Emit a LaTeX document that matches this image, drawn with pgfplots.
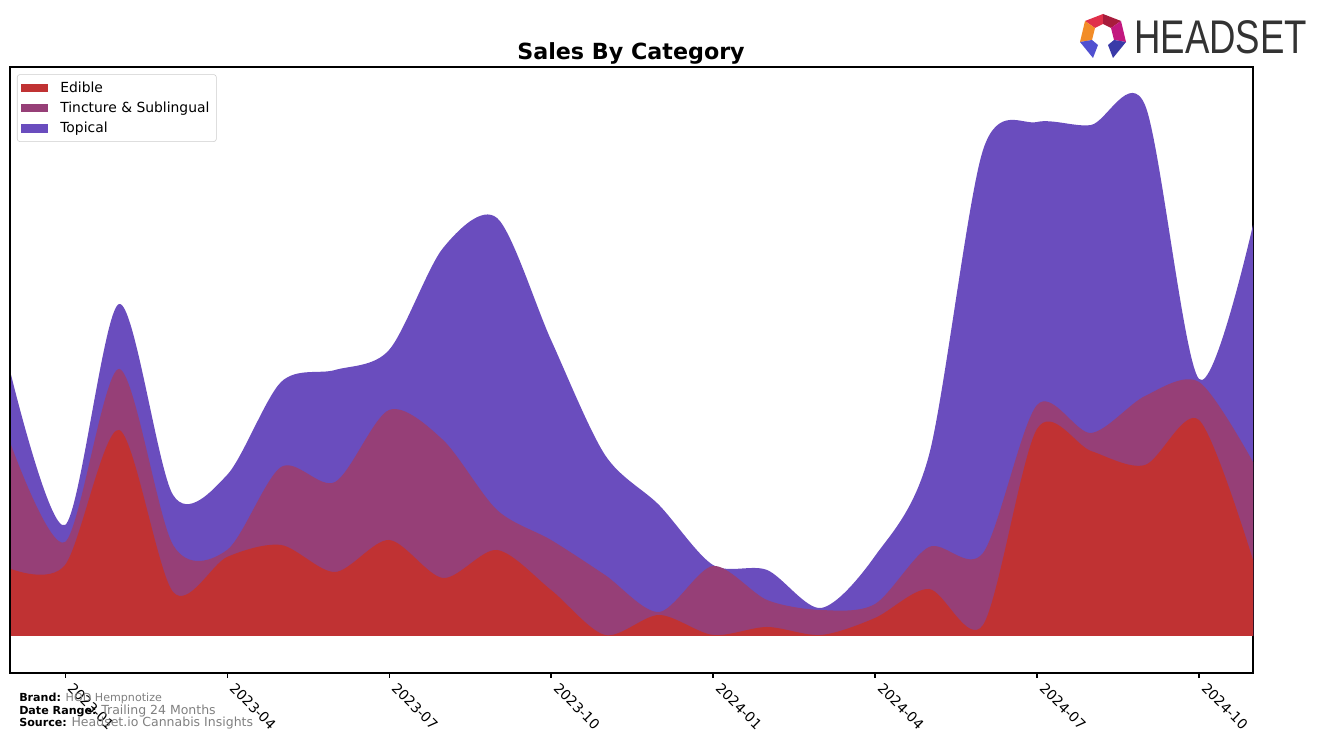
\documentclass[border=0pt]{standalone}
\usepackage{pgfplots}
\pgfplotsset{compat=1.18}
\usepackage{pgfplotstable}
\usepackage{fontspec}
\setmainfont{DejaVu Sans}
\newfontfamily\logofont{Liberation Sans}
\definecolor{cEd}{HTML}{C03233}
\definecolor{cTi}{HTML}{963F77}
\definecolor{cTo}{HTML}{6A4DBE}
\definecolor{lg1}{HTML}{E0304A}
\definecolor{lg2}{HTML}{A81C3C}
\definecolor{lg3}{HTML}{F28C28}
\definecolor{lg4}{HTML}{C2187F}
\definecolor{lg5}{HTML}{5050D0}
\definecolor{lg6}{HTML}{3A3AA8}

\pgfplotstableread{
i  ed  ti  to
0  67  124 70
1  71  23  17
2  206 61  65
3  44  47  50
4  79  7   75
5  91  78  85
6  64  90  112
7  96  130 60
8  58  138 192
9  86  40  292
10 46  50  200
11 1   60  120
12 21  3   107
13 1   69  1
14 9   27  30
15 1   25  2
16 18  14  48
17 47  42  92
18 11  72  403
19 207 24  283
20 185 18  308
21 171 69  291
22 216 38  3
23 76  98  237
}\data

\begin{document}
\begin{tikzpicture}[x=0.72pt,y=0.72pt]
\path[use as bounding box] (0,0) rectangle (1317,743);
\begin{axis}[
  at={(7.2pt,50.4pt)}, anchor=south west,
  scale only axis, width=894.96pt, height=436.32pt,
  xmin=-0.02, xmax=23, ymin=-37, ymax=569,
  ytick=\empty,
  xtick pos=bottom,
  xtick={1,4,7,10,13,16,19,22},
  xticklabels={2023-01,2023-04,2023-07,2023-10,2024-01,2024-04,2024-07,2024-10},
  x tick label style={xshift=6.5pt, rotate=-45, anchor=north west, font=\fontsize{10}{12}\selectfont, inner sep=2pt},
  tick align=outside, major tick length=3.5pt,
  tick style={black, line width=0.8pt},
  axis line style={line width=0.8pt},
  clip=true,
  legend image code/.code={\fill[#1, draw=none, sharp corners] (0pt,-3pt) rectangle (19.5pt,3pt); \path (26pt,0pt);},
  legend style={at={(0.0056,0.988)}, anchor=north west, draw=black!20, rounded corners=2pt,
    font=\fontsize{10}{12}\selectfont, row sep=1.5pt, inner sep=3pt},
  legend cell align=left,
]
\addlegendimage{fill=cEd, draw=none}\addlegendentry{Edible}
\addlegendimage{fill=cTi, draw=none}\addlegendentry{Tincture \& Sublingual}
\addlegendimage{fill=cTo, draw=none}\addlegendentry{Topical}
\addplot[draw=none, fill=cTo, smooth, forget plot] table[x=i, y expr=\thisrow{ed}+\thisrow{ti}+\thisrow{to}] {\data} \closedcycle;
\addplot[draw=none, fill=cTi, smooth, forget plot] table[x=i, y expr=\thisrow{ed}+\thisrow{ti}] {\data} \closedcycle;
\addplot[draw=none, fill=cEd, smooth, forget plot] table[x=i, y=ed] {\data} \closedcycle;
\end{axis}
\node[font=\bfseries\fontsize{16}{19}\selectfont] at (631,690) {Sales By Category};
\node[anchor=west, text=black!80, font=\logofont\fontsize{34}{40}\selectfont, xscale=0.775, inner sep=0pt] at (1134,706) {HEADSET};
\begin{scope}[shift={(0,743)}, yscale=-1]
\fill[lg1] (1085,21)--(1103,14)--(1103,24)--(1095,28)--cycle;
\fill[lg2] (1103,14)--(1121,21)--(1111,28)--(1103,24)--cycle;
\fill[lg3] (1080,42)--(1085,21)--(1095,28)--(1092,40)--cycle;
\fill[lg4] (1121,21)--(1126,42)--(1114,40)--(1111,28)--cycle;
\fill[lg5] (1080,42)--(1092,40)--(1098,45)--(1093,58)--cycle;
\fill[lg6] (1126,42)--(1114,40)--(1108,45)--(1113,58)--cycle;
\end{scope}
\node[anchor=west, inner sep=0pt, font=\fontsize{8}{9}\selectfont] at (19,45) {\textbf{Brand:} \textcolor{gray}{HOD Hempnotize}};
\node[anchor=west, inner sep=0pt, font=\fontsize{8}{9}\selectfont] at (19,32) {\textbf{Date Range:} \textcolor{gray}{\fontsize{9}{10}\selectfont Trailing 24 Months}};
\node[anchor=west, inner sep=0pt, font=\fontsize{8}{9}\selectfont] at (19,20) {\textbf{Source:} \textcolor{gray}{\fontsize{9}{10}\selectfont Headset.io Cannabis Insights}};
\end{tikzpicture}
\end{document}
